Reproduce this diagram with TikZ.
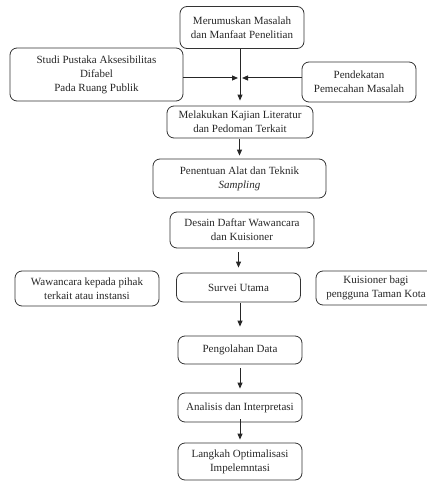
\documentclass[tikz,border=0pt]{standalone}
\usepackage{fontspec}
\setmainfont{Liberation Serif}
\usetikzlibrary{arrows.meta}
\begin{document}
\begin{tikzpicture}[x=1pt,y=-1pt,
  box/.style={draw=black!80, line width=0.8pt, rounded corners=7pt, align=center, inner sep=0pt,
    font=\fontsize{11}{14}\selectfont, text=black!85},
  arr/.style={-{Triangle[length=6pt,width=5pt]}, line width=1pt, black!85}]
\useasboundingbox (0,0) rectangle (427,481);
\node[box, minimum width=124pt, minimum height=42pt] (mer) at (242,27.5) {Merumuskan Masalah\\dan Manfaat Penelitian};
\node[box, minimum width=173pt, minimum height=53pt] (stu) at (96.5,74.5) {Studi Pustaka Aksesibilitas\\Difabel\\Pada Ruang Publik};
\node[box, minimum width=114pt, minimum height=40pt] (pen) at (359,82) {Pendekatan\\Pemecahan Masalah};
\node[box, minimum width=146pt, minimum height=32pt] (mel) at (240,122) {Melakukan Kajian Literatur\\dan Pedoman Terkait};
\node[box, minimum width=173pt, minimum height=39pt] (alt) at (239.5,178.5) {Penentuan Alat dan Teknik\\\textit{Sampling}};
\node[box, minimum width=144pt, minimum height=36pt] (des) at (242,230) {Desain Daftar Wawancara\\dan Kuisioner};
\node[box, minimum width=124pt, minimum height=29pt] (sur) at (238.5,287.5) {Survei Utama};
\node[box, minimum width=144pt, minimum height=35pt] (waw) at (87,288.5) {Wawancara kepada pihak\\terkait atau instansi};
\node[box, minimum width=120pt, minimum height=34pt] (kui) at (376,288) {Kuisioner bagi\\pengguna Taman Kota};
\node[box, minimum width=124pt, minimum height=28pt] (pgl) at (240,350) {Pengolahan Data};
\node[box, minimum width=124pt, minimum height=29pt] (ana) at (240,407.5) {Analisis dan Interpretasi};
\node[box, minimum width=124pt, minimum height=37pt] (lan) at (240,461.5) {Langkah Optimalisasi\\Impelemntasi};
\coordinate (jl) at (238,78);
\coordinate (jr) at (242,78);
\draw[arr, shorten >=5pt] (mer.south -| mel.north) -- (mel.north);
\draw[arr] (stu.east |- jl) -- (jl);
\draw[arr] (pen.west |- jr) -- (jr);
\draw[arr, shorten <=1pt, shorten >=3pt] (mel.south -| alt.north) -- (alt.north);
\draw[arr, shorten <=4pt, shorten >=5pt] (des.south -| sur.north) -- (sur.north);
\draw[arr, shorten <=1pt, shorten >=9pt] (sur.south -| pgl.north) -- (pgl.north);
\draw[arr, shorten <=4pt, shorten >=4pt] (pgl) -- (ana);
\draw[arr, shorten <=-3pt, shorten >=3pt] (ana) -- (lan);
\end{tikzpicture}
\end{document}
